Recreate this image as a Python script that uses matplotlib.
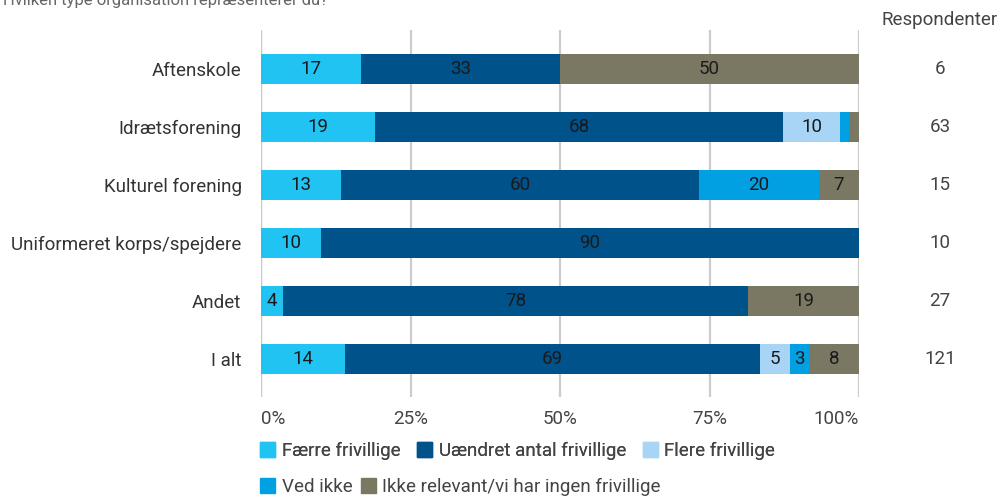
import numpy as np
import matplotlib.pyplot as plt
from matplotlib.patches import Patch
from matplotlib.transforms import blended_transform_factory

plt.rcParams["font.family"] = ["Roboto", "DejaVu Sans"]

# ============================================================
# DATA
# ============================================================

title = "Hvilken type organisation repræsenterer du?"

categories = ["Aftenskole", "Idrætsforening", "Kulturel forening",
              "Uniformeret korps/spejdere", "Andet", "I alt"]
respondents = [6, 63, 15, 10, 27, 121]

series_names = ["Færre frivillige", "Uændret antal frivillige", "Flere frivillige",
                "Ved ikke", "Ikke relevant/vi har ingen frivillige"]

faerre     = [16.7, 19.0, 13.3, 10.0, 3.7, 14.0]
uaendret   = [33.3, 68.3, 60.0, 90.0, 77.8, 69.4]
flere      = [0.0, 9.5, 0.0, 0.0, 0.0, 5.0]
ved_ikke   = [0.0, 1.6, 20.0, 0.0, 0.0, 3.3]
ikke_relev = [50.0, 1.6, 6.7, 0.0, 18.52, 8.3]

colors = ["#21c3f3", "#00528a", "#a8d5f5", "#00a0e3", "#7a7763"]

series = [faerre, uaendret, flere, ved_ikke, ikke_relev]

# ============================================================
# PLOT
# ============================================================

FS = 13.5

fig = plt.figure(figsize=(10.06, 4.97), dpi=100)
ax = fig.add_axes([261 / 1006, 100 / 497, 598 / 1006, 367 / 497])

y = np.arange(len(categories))
left = np.zeros(len(categories))

for vals, col in zip(series, colors):
    vals = np.array(vals)
    ax.barh(y, vals, left=left, height=0.52, color=col, zorder=3)
    for yi, (l, v) in enumerate(zip(left, vals)):
        if v >= 3:
            ax.text(l + v / 2, yi, f"{v:.0f}", ha="center", va="center",
                    fontsize=FS, color="#1a1a1a", zorder=4)
    left += vals

ax.set_xlim(0, 100)
ax.set_ylim(len(categories) - 1 + 0.655, -0.672)

ax.set_xticks([0, 25, 50, 75, 100])
ax.set_xticklabels(["0%", "25%", "50%", "75%", "100%"], fontsize=FS, color="#444444")
tl = ax.get_xticklabels()
tl[0].set_ha("left")
tl[-1].set_ha("right")
ax.tick_params(axis="x", length=0, pad=9)

ax.set_yticks(y)
ax.set_yticklabels(categories, fontsize=FS, color="#333333")
ax.tick_params(axis="y", length=0, pad=14)

ax.grid(axis="x", color="#cccccc", linewidth=1.6, zorder=0)
for s in ["top", "right", "bottom", "left"]:
    ax.spines[s].set_visible(False)
ax.axvline(0, color="#aaaaaa", linewidth=1.6, zorder=1)

# respondents column
fig.text(940 / 1006, 1 - 20 / 497, "Respondenter", ha="center", va="center",
         fontsize=FS, color="#444444")
tr = blended_transform_factory(fig.transFigure, ax.transData)
for yi, n in enumerate(respondents):
    ax.text(940 / 1006, yi, str(n), ha="center", va="center", fontsize=FS,
            color="#444444", transform=tr)

# title (cut off at top edge, as in the source)
fig.text(0.003, 1 - 1 / 497, title, ha="left", va="center", fontsize=12, color="#666666")

# legend, two rows
handles = [Patch(facecolor=c, edgecolor=c) for c in colors]
leg_kw = dict(loc="center left", frameon=False, fontsize=FS, handlelength=0.8,
              handleheight=0.8, handletextpad=0.35,
              labelcolor="#444444", borderaxespad=0, borderpad=0)
leg1 = fig.legend(handles[:3], series_names[:3], ncol=3, columnspacing=0.9,
                  bbox_to_anchor=(260 / 1006, 1 - 451 / 497), **leg_kw)
fig.add_artist(leg1)
fig.legend(handles[3:], series_names[3:], ncol=2, columnspacing=0.45,
           bbox_to_anchor=(260 / 1006, 1 - 487 / 497), **leg_kw)

plt.savefig("out.png", dpi=100)
